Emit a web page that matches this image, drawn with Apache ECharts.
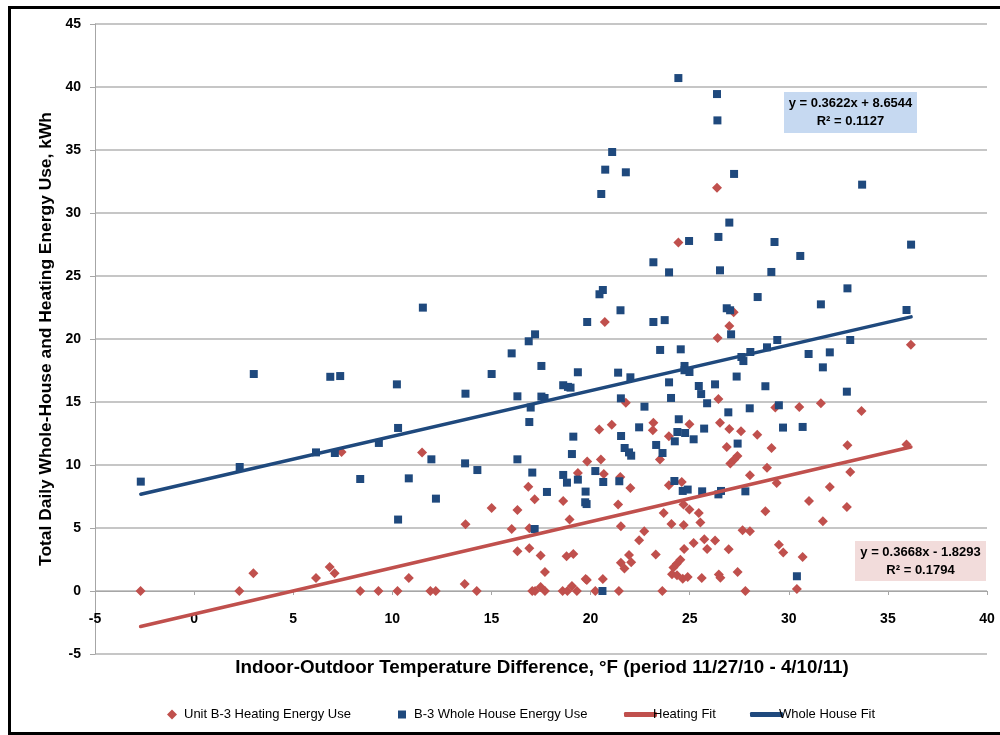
<!DOCTYPE html>
<html>
<head>
<meta charset="utf-8">
<script src="https://cdn.jsdelivr.net/npm/echarts@6/dist/echarts.min.js"></script>
<style>
  html, body { margin: 0; padding: 0; background: #fff; }
  #chart { width: 1000px; height: 735px; }
</style>
</head>
<body>
<div id="chart"></div>
<script>
// ---- Data ----
// Unit B-3 heating energy use: [temperature difference °F, kWh]
const heatingX = [
  -2.7, 2.28, 2.99, 6.15, 6.84, 7.09, 7.44, 8.38, 9.3, 20.72,
  21.78, 23.17, 23.14, 21.07, 20.44, 23.95, 23.5, 11.5, 19.83, 20.52,
  19.36, 20.67, 21.5, 22.01, 23.95, 16.86, 17.18, 18.62, 15.01, 16.31,
  21.39, 23.69, 24.08, 13.69, 18.94, 16.02, 16.91, 21.53, 22.71, 22.45,
  16.31, 16.91, 17.48, 18.79, 19.13, 23.29, 21.94, 22.05, 21.53, 21.71,
  17.7, 10.83, 13.65, 19.75, 19.81, 20.62, 10.26, 11.92, 12.19, 14.26,
  17.06, 17.2, 17.48, 17.7, 18.59, 18.83, 19.06, 19.31, 20.24, 21.43,
  23.62, 27.0, 26.41, 36.16, 26.45, 31.62, 29.32, 30.53, 33.67, 24.99,
  26.53, 27.0, 27.59, 28.41, 26.87, 29.13, 32.96, 35.94, 27.41, 27.25,
  27.05, 28.9, 28.04, 33.1, 29.39, 24.6, 32.07, 31.02, 24.69, 24.99,
  25.46, 25.54, 28.82, 32.93, 24.7, 31.72, 27.67, 28.04, 25.74, 26.28,
  25.2, 25.88, 24.72, 26.97, 29.5, 29.72, 30.7, 24.53, 24.35, 24.18,
  24.11, 24.36, 24.65, 24.9, 25.61, 26.47, 26.55, 27.42, 27.81, 30.41,
  24.43, 26.38, 27.22
];
const heatingY = [
  0, 0, 1.4, 1.03, 1.9, 1.4, 11.03, 0, 0, 21.35,
  14.95, 13.36, 12.75, 13.2, 12.81, 12.28, 10.43, 11.0, 10.27, 10.43,
  9.37, 9.29, 9.05, 8.17, 8.39, 8.28, 7.28, 7.14, 6.59, 6.43,
  6.86, 6.19, 5.32, 5.29, 5.67, 4.92, 4.98, 5.13, 4.74, 4.02,
  3.15, 3.39, 2.81, 2.75, 2.94, 2.89, 2.86, 2.28, 2.25, 1.78,
  1.51, 1.03, 0.56, 0.95, 0.87, 0.95, 0, 0, 0, 0,
  0, 0, 0.32, 0, 0, 0, 0.4, 0, 0, 0,
  0, 21.03, 20.08, 19.55, 15.24, 14.9, 14.56, 14.6, 14.29, 13.23,
  13.36, 12.86, 12.67, 12.41, 11.43, 11.35, 11.56, 11.62, 10.71, 10.43,
  10.11, 9.79, 9.18, 9.44, 8.57, 8.65, 8.25, 7.14, 6.86, 6.46,
  6.19, 5.43, 6.33, 6.67, 5.24, 5.53, 4.82, 4.74, 4.1, 4.0,
  3.81, 3.33, 3.33, 3.31, 3.68, 3.05, 2.7, 2.49, 2.17, 1.86,
  1.33, 1.25, 0.98, 1.11, 1.03, 1.3, 1.06, 1.51, 0, 0.16,
  27.65, 32.01, 22.12
];
// B-3 whole house energy use: [temperature difference °F, kWh]
const houseX = [
  -2.69, 2.3, 3.01, 6.87, 7.37, 6.15, 7.1, 8.38, 9.32, 19.83,
  23.17, 23.74, 17.2, 16.88, 16.02, 17.52, 15.01, 19.36, 21.39, 22.01,
  23.51, 24.55, 10.23, 13.69, 16.31, 17.52, 17.68, 18.62, 18.86, 18.99,
  16.98, 16.91, 21.53, 22.72, 23.96, 24.06, 24.45, 24.38, 24.25, 22.45,
  21.54, 21.72, 21.94, 22.05, 23.31, 23.63, 10.29, 11.97, 13.67, 14.29,
  10.83, 12.2, 10.29, 16.31, 17.06, 17.8, 17.18, 19.13, 19.06, 18.62,
  18.81, 19.36, 20.24, 19.75, 19.73, 19.8, 20.64, 21.45, 24.23, 20.6,
  27.09, 27.61, 27.71, 28.06, 28.9, 29.42, 31.0, 32.07, 33.1, 31.72,
  24.74, 24.74, 24.99, 27.37, 25.46, 25.58, 26.28, 28.82, 32.93, 25.88,
  26.95, 28.03, 29.5, 24.77, 25.2, 25.73, 29.71, 30.7, 27.42, 24.65,
  24.9, 25.63, 26.45, 26.58, 27.81, 30.41, 35.94, 24.43, 21.09, 20.74,
  21.78, 20.54, 23.17, 23.96, 20.62, 20.45, 11.54, 21.51, 26.38, 26.4,
  27.24, 33.7, 27.0, 26.45, 24.97, 29.28, 30.58, 36.17, 26.53, 29.12,
  28.43, 32.96, 31.62, 26.87, 27.04
];
const houseY = [
  8.68, 9.84, 17.22, 17.0, 17.06, 11.0, 10.95, 8.89, 11.75, 21.35,
  21.35, 21.5, 20.37, 19.82, 18.86, 17.86, 17.22, 17.36, 17.33, 16.96,
  19.13, 19.18, 16.4, 15.66, 15.45, 15.43, 15.32, 16.33, 16.2, 16.14,
  14.56, 13.41, 15.29, 14.63, 16.56, 15.32, 13.63, 12.62, 11.88, 12.99,
  12.3, 11.35, 11.0, 10.74, 11.59, 10.95, 12.94, 10.45, 10.13, 9.6,
  8.94, 7.33, 5.67, 10.45, 9.4, 7.86, 4.92, 12.25, 10.87, 9.21,
  8.6, 8.84, 9.52, 7.89, 7.04, 6.9, 8.65, 8.71, 8.73, 0,
  20.37, 18.57, 18.25, 18.97, 19.34, 19.92, 18.81, 18.94, 19.92, 17.75,
  17.86, 17.52, 17.38, 17.02, 16.27, 15.63, 16.4, 16.25, 15.82, 14.9,
  14.18, 14.5, 14.74, 12.54, 12.04, 12.89, 12.97, 13.02, 11.7, 7.94,
  8.05, 7.91, 7.67, 7.94, 7.91, 1.17, 22.3, 40.71, 34.84, 33.44,
  33.23, 31.51, 26.09, 25.29, 23.89, 23.55, 22.49, 22.28, 39.44, 37.35,
  33.1, 32.25, 29.24, 28.1, 27.78, 27.7, 26.59, 27.49, 25.45, 25.32,
  23.33, 24.02, 22.75, 22.44, 22.28
];
// Linear fits as reported on the chart
const heatingFit = { slope: 0.3668, intercept: -1.8293, r2: 0.1794 };
const houseFit = { slope: 0.3622, intercept: 8.6544, r2: 0.1127 };
// Axis ticks
const xTicks = [-5, 0, 5, 10, 15, 20, 25, 30, 35, 40];
const yTicks = [-5, 0, 5, 10, 15, 20, 25, 30, 35, 40, 45];
const seriesNames = ['Unit B-3 Heating Energy Use', 'B-3 Whole House Energy Use', 'Heating Fit', 'Whole House Fit'];

// ---- Build ----
const zip = (xs, ys) => xs.map((x, i) => [x, ys[i]]);
const heatingPts = zip(heatingX, heatingY);
const housePts = zip(houseX, houseY);
function fitLine(xs, fit) {
  const lo = Math.min(...xs), hi = Math.max(...xs);
  return [[lo, fit.slope * lo + fit.intercept], [hi, fit.slope * hi + fit.intercept]];
}
const fmtEq = f => 'y = ' + f.slope.toFixed(4) + 'x ' + (f.intercept < 0 ? '- ' : '+ ') + Math.abs(f.intercept).toFixed(4);

const RED = '#C0504D', BLUE = '#1F497D';
const FONT = '"Liberation Sans", Arial, sans-serif';
const chart = echarts.init(document.getElementById('chart'), null, { renderer: 'canvas' });

const legendText = pad => ({ fontFamily: FONT, fontSize: 13, color: '#000', padding: [0, 0, 0, pad] });
const legendBase = { orient: 'horizontal', top: 703 };

chart.setOption({
  animation: false,
  backgroundColor: '#fff',
  grid: { left: 95, right: 13, top: 24, bottom: 81, containLabel: false },
  xAxis: {
    type: 'value', min: xTicks[0], max: xTicks[xTicks.length - 1], interval: 5,
    axisLine: { onZero: true, lineStyle: { color: '#A6A6A6', width: 1 } },
    axisTick: { show: true, inside: false, length: 4, lineStyle: { color: '#A6A6A6' } },
    axisLabel: { fontFamily: FONT, fontWeight: 'bold', fontSize: 14, color: '#000', margin: -42 },
    splitLine: { show: false }
  },
  yAxis: {
    type: 'value', min: yTicks[0], max: yTicks[yTicks.length - 1], interval: 5,
    name: 'Total Daily Whole-House and Heating Energy Use, kWh',
    nameLocation: 'middle', nameGap: 40, nameRotate: 90,
    nameTextStyle: { fontFamily: FONT, fontWeight: 'bold', fontSize: 17.4, color: '#000' },
    axisLine: { show: true, onZero: false, lineStyle: { color: '#A6A6A6', width: 1 } },
    axisTick: { show: true, length: 5, lineStyle: { color: '#A6A6A6' } },
    axisLabel: { fontFamily: FONT, fontWeight: 'bold', fontSize: 14, color: '#000', margin: 14 },
    splitLine: { show: true, lineStyle: { color: '#B3B3B3', width: 1.5 } }
  },
  legend: [
    Object.assign({}, legendBase, { left: 162, itemWidth: 10, itemHeight: 10, data: [{ name: seriesNames[0], icon: 'diamond' }], textStyle: legendText(2) }),
    Object.assign({}, legendBase, { left: 393, itemWidth: 8, itemHeight: 8, data: [{ name: seriesNames[1], icon: 'rect' }], textStyle: legendText(3) }),
    Object.assign({}, legendBase, { left: 619, itemWidth: 33, itemHeight: 5, data: [{ name: seriesNames[2], icon: 'roundRect' }], textStyle: legendText(-9) }),
    Object.assign({}, legendBase, { left: 745, itemWidth: 33, itemHeight: 5, data: [{ name: seriesNames[3], icon: 'roundRect' }], textStyle: legendText(-9) })
  ],
  series: [
    { name: seriesNames[0], type: 'scatter', symbol: 'diamond', symbolSize: 10, itemStyle: { color: RED, opacity: 1 }, data: heatingPts, z: 3 },
    { name: seriesNames[1], type: 'scatter', symbol: 'rect', symbolSize: 8, itemStyle: { color: BLUE, opacity: 1 }, data: housePts, z: 4 },
    { name: seriesNames[2], type: 'line', showSymbol: false, symbol: 'none', lineStyle: { color: RED, width: 3.5, cap: 'round' }, itemStyle: { color: RED }, data: fitLine(heatingX, heatingFit), z: 5 },
    { name: seriesNames[3], type: 'line', showSymbol: false, symbol: 'none', lineStyle: { color: BLUE, width: 3.5, cap: 'round' }, itemStyle: { color: BLUE }, data: fitLine(houseX, houseFit), z: 5 }
  ],
  graphic: [
    { type: 'rect', shape: { x: 9.5, y: 7.5, width: 1010, height: 726 }, style: { fill: null, stroke: '#000', lineWidth: 3 }, silent: true, z: 100 },
    { type: 'text', style: { text: 'Indoor-Outdoor Temperature Difference, °F (period 11/27/10 - 4/10/11)', fontFamily: FONT, fontWeight: 'bold', fontSize: 18.8, fill: '#000', textAlign: 'center', textVerticalAlign: 'middle', x: 542, y: 668 }, z: 10 },
    { type: 'rect', shape: { x: 784, y: 92, width: 133, height: 41 }, style: { fill: '#C6D9F1' }, z: 10 },
    { type: 'text', style: { text: fmtEq(houseFit) + '\nR² = ' + houseFit.r2.toFixed(4), x: 850.5, y: 112.5, textAlign: 'center', textVerticalAlign: 'middle', fontFamily: FONT, fontWeight: 'bold', fontSize: 13, lineHeight: 18, fill: '#000' }, z: 11 },
    { type: 'rect', shape: { x: 855, y: 541, width: 131, height: 40 }, style: { fill: '#F2DCDB' }, z: 10 },
    { type: 'text', style: { text: fmtEq(heatingFit) + '\nR² = ' + heatingFit.r2.toFixed(4), x: 920.5, y: 561, textAlign: 'center', textVerticalAlign: 'middle', fontFamily: FONT, fontWeight: 'bold', fontSize: 13, lineHeight: 18, fill: '#000' }, z: 11 }
  ]
});
</script>
</body>
</html>
